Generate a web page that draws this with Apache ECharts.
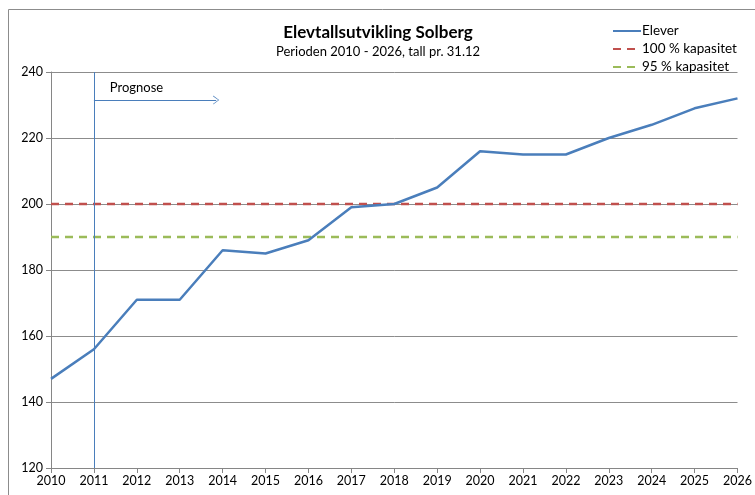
<!DOCTYPE html>
<html><head><meta charset="utf-8">
<script src="https://cdn.jsdelivr.net/npm/echarts@6/dist/echarts.min.js"></script>
<style>html,body{margin:0;padding:0;background:#fff}#c{width:755px;height:495px}</style>
</head><body><div id="c"></div>
<script>
const years = [2010,2011,2012,2013,2014,2015,2016,2017,2018,2019,2020,2021,2022,2023,2024,2025,2026];
const elever = [147,156,171,171,186,185,189,199,200,205,216,215,215,220,224,229,232];
const kap100 = [200,200,200,200,200,200,200,200,200,200,200,200,200,200,200,200,200];
const kap95 = [190,190,190,190,190,190,190,190,190,190,190,190,190,190,190,190,190];
const yTicks = [120,140,160,180,200,220,240];
const prognoseStart = 2011;
const arrowEnd = 2013.85;
const arrowLevel = 231.5;
const labelPos = [2011.37, 235.2];

const font = 'Lato, Carlito, "Open Sans", sans-serif';
const chart = echarts.init(document.getElementById('c'), null, {renderer:'canvas'});
const pairs = a => years.map((y,i)=>[y,a[i]]);
chart.setOption({
  animation:false,
  textStyle:{fontFamily:font},
  graphic:[{type:'rect',shape:{x:8.5,y:9.5,width:900,height:700},style:{fill:'none',stroke:'#8c8c8c',lineWidth:1},silent:true}],
  title:{text:'Elevtallsutvikling Solberg',subtext:'Perioden 2010 - 2026, tall pr. 31.12',
    left:373,top:19,textAlign:'center',itemGap:4,
    textStyle:{fontFamily:font,fontWeight:'bold',fontSize:17,color:'#000'},
    subtextStyle:{fontFamily:font,fontSize:13,color:'#000'}},
  legend:{orient:'vertical',left:607,top:19,itemGap:4,itemWidth:28,itemHeight:13,
    itemStyle:{opacity:0},
    textStyle:{fontFamily:font,fontSize:13.5,color:'#000',padding:[0,0,0,-4]},
    data:['Elever','100 % kapasitet','95 % kapasitet']},
  grid:{left:51,right:17,top:72,bottom:27},
  xAxis:{type:'value',min:2010,max:2026,interval:1,
    axisLine:{lineStyle:{color:'#868686'}},
    axisTick:{show:true,length:5,lineStyle:{color:'#868686'}},
    axisLabel:{color:'#000',fontFamily:font,fontSize:12.5,margin:6,formatter:v=>String(v)},
    splitLine:{show:false}},
  yAxis:{type:'value',min:yTicks[0],max:yTicks[yTicks.length-1],interval:20,
    axisLine:{show:true,lineStyle:{color:'#868686'}},
    axisTick:{show:true,length:5,lineStyle:{color:'#868686'}},
    axisLabel:{color:'#000',fontFamily:font,fontSize:12.5,margin:8},
    splitLine:{lineStyle:{color:'#8c8c8c',width:1}}},
  series:[
    {name:'100 % kapasitet',type:'line',data:pairs(kap100),symbol:'none',z:3,
      lineStyle:{color:'#c0504d',width:2.5,type:[8,6]},itemStyle:{color:'#c0504d'}},
    {name:'95 % kapasitet',type:'line',data:pairs(kap95),symbol:'none',z:3,
      lineStyle:{color:'#9bbb59',width:2.5,type:[8,6]},itemStyle:{color:'#9bbb59'}},
    {name:'Elever',type:'line',data:pairs(elever),symbol:'none',z:4,
      lineStyle:{color:'#4a7ebb',width:2.5},itemStyle:{color:'#4a7ebb'},
      markLine:{silent:true,symbol:'none',animation:false,
        lineStyle:{color:'#4a7ebb',width:1,type:'solid'},
        data:[
          [{coord:[prognoseStart,yTicks[0]]},{coord:[prognoseStart,yTicks[yTicks.length-1]]}],
          [{coord:[prognoseStart,arrowLevel],symbol:'none'},
           {coord:[arrowEnd,arrowLevel],symbol:'path://M0,10 L5,0 L10,10 L9,10 L5,1.6 L1,10 Z',symbolSize:[9,6]}]
        ],
        label:{show:false}}}
  ]
});
const p = chart.convertToPixel({gridIndex:0}, labelPos);
chart.setOption({graphic:[
  {type:'rect',shape:{x:8.5,y:9.5,width:900,height:700},style:{fill:'none',stroke:'#8c8c8c',lineWidth:1},silent:true},
  {type:'text',x:p[0],y:p[1],silent:true,style:{text:'Prognose',fill:'#000',font:'13px '+font,textVerticalAlign:'middle'}}
]});
</script></body></html>
